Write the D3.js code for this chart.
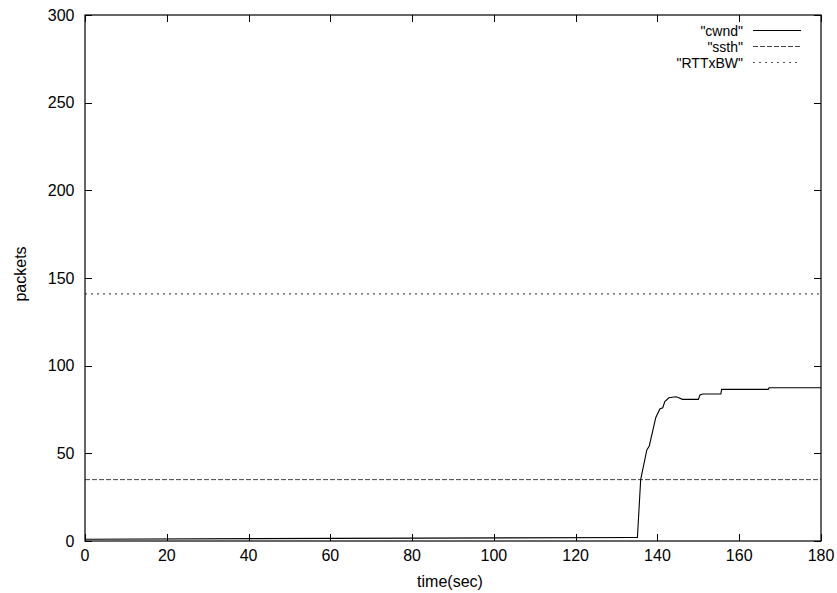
<!DOCTYPE html>
<html><head><meta charset="utf-8">
<script src="https://cdn.jsdelivr.net/npm/d3@7"></script>
<style>body{margin:0;background:#fff}svg{display:block}</style>
</head><body>
<script>
const cwndTime  = [0, 60, 134.6, 135.1, 135.9, 137.4, 138.0, 139.6, 140.6, 141.3, 141.8, 142.8, 144.5, 145.1, 146.1, 150.0, 150.4, 151.1, 155.5, 155.7, 167.1, 167.3, 180];
const cwndValue = [1, 1.5, 2, 2, 35, 51.9, 54.2, 70.5, 75.3, 76, 79.5, 81.7, 82.3, 81.9, 80.8, 80.8, 83.3, 83.8, 83.8, 86.5, 86.5, 87.4, 87.4];
const ssthValue = 35;
const rttbwValue = 141;
const xTicks = [0, 20, 40, 60, 80, 100, 120, 140, 160, 180];
const yTicks = [0, 50, 100, 150, 200, 250, 300];
const legendLabels = ['"cwnd"', '"ssth"', '"RTTxBW"'];

const W = 837, H = 593;
const m = {l: 85, r: 16, t: 15, b: 52};
const svg = d3.select("body").append("svg").attr("width", W).attr("height", H)
  .style("font-family", "'Liberation Sans', Arial, sans-serif");
const x = d3.scaleLinear().domain([0, 180]).range([m.l, W - m.r]);
const y = d3.scaleLinear().domain([0, 300]).range([H - m.b, m.t]);
const fs = 16;

// ticks (inward, mirrored)
const tl = 7;
const g = svg.append("g").attr("stroke", "#000").attr("stroke-width", 1);
xTicks.forEach(t => {
  const px = Math.round(x(t)) + 0.5;
  g.append("line").attr("x1", px).attr("x2", px).attr("y1", y(0)).attr("y2", y(0) - tl);
  g.append("line").attr("x1", px).attr("x2", px).attr("y1", y(300)).attr("y2", y(300) + tl);
});
yTicks.forEach(t => {
  const py = Math.round(y(t)) + 0.5;
  g.append("line").attr("x1", x(0)).attr("x2", x(0) + tl).attr("y1", py).attr("y2", py);
  g.append("line").attr("x1", x(180)).attr("x2", x(180) - tl).attr("y1", py).attr("y2", py);
});
svg.selectAll(".xl").data(xTicks).enter().append("text")
  .attr("x", d => x(d)).attr("y", y(0) + 19.5).attr("text-anchor", "middle")
  .attr("font-size", fs).text(d => d);
svg.selectAll(".yl").data(yTicks).enter().append("text")
  .attr("x", x(0) - 10.5).attr("y", d => y(d) + 5.8).attr("text-anchor", "end")
  .attr("font-size", fs).text(d => d);
svg.append("text").attr("x", 450).attr("y", 587).attr("text-anchor", "middle")
  .attr("font-size", fs).text("time(sec)");
svg.append("text").attr("transform", `translate(26,274) rotate(-90)`)
  .attr("text-anchor", "middle").attr("font-size", fs).text("packets");

// lines
svg.append("line").attr("x1", x(0)).attr("x2", x(180)).attr("y1", y(rttbwValue)).attr("y2", y(rttbwValue))
  .attr("stroke", "#555").attr("stroke-dasharray", "2,4").attr("stroke-width", 1.2);
svg.append("line").attr("x1", x(0)).attr("x2", x(180)).attr("y1", y(ssthValue)).attr("y2", y(ssthValue))
  .attr("stroke", "#444").attr("stroke-dasharray", "5,2").attr("stroke-width", 1);
const line = d3.line().x((d, i) => x(cwndTime[i])).y(d => y(d));
svg.append("path").attr("d", line(cwndValue)).attr("fill", "none").attr("stroke", "#000").attr("stroke-width", 1.1);

// frame
svg.append("rect").attr("x", x(0)).attr("y", y(300)).attr("width", x(180) - x(0)).attr("height", y(0) - y(300))
  .attr("fill", "none").attr("stroke", "#000").attr("stroke-width", 1.2);

// legend
const styles = [{c: "#000", d: null}, {c: "#444", d: "5,2"}, {c: "#555", d: "2,4"}];
legendLabels.forEach((lab, i) => {
  const ly = 30.5 + i * 16;
  svg.append("text").attr("x", 743).attr("y", ly + 5).attr("text-anchor", "end").attr("font-size", 14).text(lab);
  const l = svg.append("line").attr("x1", 753).attr("x2", 801).attr("y1", ly).attr("y2", ly)
    .attr("stroke", styles[i].c).attr("stroke-width", 1);
  if (styles[i].d) l.attr("stroke-dasharray", styles[i].d);
});
</script>
</body></html>
